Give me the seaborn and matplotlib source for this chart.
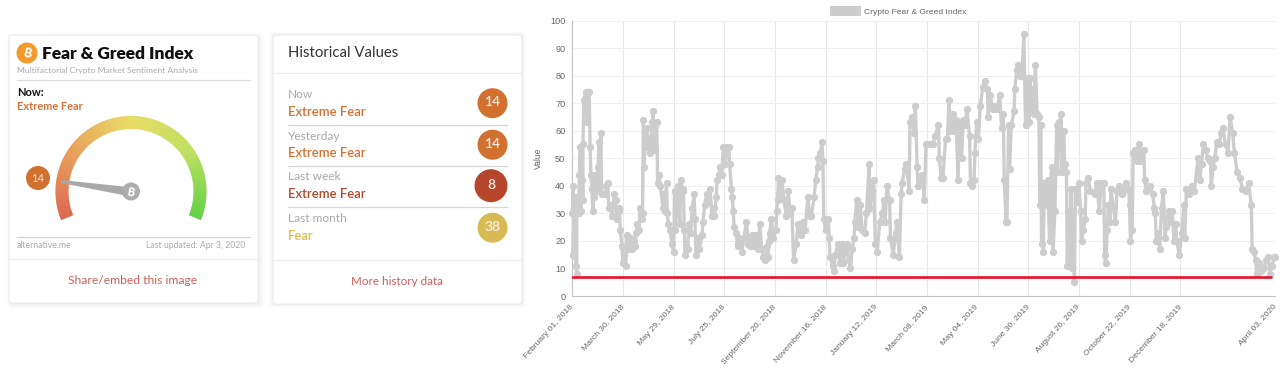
import numpy as np
import pandas as pd
import matplotlib
matplotlib.use('Agg')
import matplotlib.pyplot as plt
import seaborn as sns
from matplotlib.patches import Circle, FancyBboxPatch, Patch, Polygon, Wedge
from matplotlib.colors import LinearSegmentedColormap

# (day since Feb 1 2018, index value)
readings_2018_a = [(0,30),(1,40),(1,15),(2,30),(3,36),(4,11),(5,8),(5,36),(7,30),(8,44),(9,54),(10,31),(11,42),(12,35),(12,55),(13,71),(15,74),(17,63),(18,74),(19,74),(20,54),(21,44),(22,39),(23,31),(24,36),(25,44),(27,38),(29,47),(30,56),(31,40),(32,59),(33,37),(37,37),(38,40),(40,41),(41,32),(43,33),(45,29),(47,37),(49,35),(50,28),(52,32),(53,31),(54,24),(56,18),(57,12),(58,15),(60,11),(61,22),(63,17),(65,21),(67,17),(69,20),(70,18),(72,23),(73,26),(75,24),(76,32),(78,28),(79,30),(80,64),(81,47),(82,59),(83,54),(84,61),(87,52),(88,54),(90,63),(91,67),(92,56),(93,53),(95,63),(96,41),(97,44),(99,40),(102,32),(102,37),(104,31),(106,41),(107,30),(108,26),(110,24),(112,19),(114,16),(115,38),(116,24),(119,40),(121,26),(122,42),(124,38),(125,39),(126,24),(127,15),(128,19),(130,17),(131,26),(133,23),(135,32),(137,37),(138,28),(139,15),(140,17),(141,21),(143,17),(146,22),(147,27),(149,33),(151,37),(153,34),(155,39),(157,29),(159,32),(160,29),(162,36),(163,42),(165,44),(166,47),(168,44),(170,54),(172,48),(174,54),(176,54),(177,48),(179,39),(180,36),(181,31),(182,25),(184,23),(186,19),(187,18),(188,21),(191,16),(193,21),(196,27),(198,19),(200,18),(202,22),(205,18),(207,22),(209,17),(211,26),(213,17),(215,14),(217,13),(219,18),(220,14),(221,20),(222,23),(224,28),(226,21),(229,24)]
readings_2018_b = [(230,31),(231,35),(232,43),(233,37),(236,42),(238,35),(241,29),(243,38),(245,30),(247,32),(249,13),(252,19),(254,26),(257,22),(260,27),(262,24),(265,36),(267,29),(269,29),(272,36),(274,42),(276,47),(277,50),(279,52),(281,56),(282,49),(283,28),(285,24),(288,28),(289,21),(290,14),(293,11),(294,9),(296,15),(299,19),(301,12),(304,19),(305,12),(309,19),(311,13),(313,10),(315,17),(317,21),(318,27),(320,35),(322,25),(324,33),(326,24),(329,23),(331,30),(334,48),(335,32),(337,38),(339,42),(341,19),(343,16),(346,27),(349,30),(351,35),(352,27),(354,40),(357,35),(358,21),(361,15),(364,23),(365,27),(368,14),(370,37),(371,41),(374,46),(376,48),(379,38),(380,63),(382,65),(385,59),(386,69),(388,47),(389,40),(392,42),(394,44),(396,35),(398,55),(402,55),(406,55),(408,58),(412,62),(413,50),(415,43),(417,43),(420,57),(422,57),(424,71),(425,60),(428,66),(429,60),(432,64),(434,42),(436,62),(438,50),(440,64),(442,62),(444,68),(447,58),(448,41),(450,40),(452,42),(453,52),(455,63),(457,57),(459,69),(462,76),(464,78),(467,75),(468,65),(470,73),(473,68),(475,69),(478,68),(481,73),(483,61),(485,66),(486,42),(488,27),(489,27),(491,62),(492,46),(494,62),(497,67),(498,75),(500,82),(502,84),(504,80),(506,80),(508,95)]
readings_2019 = [(510,62),(511,78),(512,63),(513,79),(514,63),(515,79),(516,67),(517,75),(519,66),(521,84),(523,66),(525,65),(526,33),(527,62),(528,19),(529,41),(530,16),(531,41),(533,33),(535,42),(537,20),(538,42),(540,47),(541,16),(543,31),(545,62),(546,45),(548,63),(550,66),(551,45),(553,60),(554,48),(556,45),(557,11),(558,31),(560,12),(561,39),(562,10),(563,31),(565,5),(566,39),(568,34),(570,41),(572,31),(573,20),(575,24),(577,28),(578,41),(580,43),(583,38),(588,37),(590,41),(593,31),(595,41),(598,41),(599,15),(600,12),(602,24),(603,33),(605,27),(606,39),(609,32),(611,27),(613,38),(615,40),(618,37),(620,38),(623,41),(626,39),(627,33),(628,20),(630,24),(631,52),(633,53),(635,49),(636,50),(638,55),(640,49),(643,53),(644,42),(646,38),(650,40),(653,37),(655,32),(656,30),(657,20),(659,23),(661,17),(663,32),(665,38),(667,21),(668,25),(671,31),(673,27),(675,31),(677,20),(679,26),(680,20),(683,15),(686,23),(688,33),(689,21)]
readings_2020 = [(691,39),(694,37),(697,40),(700,38),(704,50),(706,42),(708,48),(710,55),(713,53),(715,50),(718,49),(719,40),(721,47),(723,50),(725,56),(728,55),(730,59),(732,61),(735,55),(738,52),(740,65),(743,59),(745,52),(748,45),(751,43),(754,39),(758,38),(761,41),(764,33),(765,17),(767,16),(769,13),(770,8),(773,12),(775,9),(778,10),(781,13),(783,14),(785,8),(787,11),(790,14),(791,14)]

tick_index = [0,57,114,171,228,285,342,399,456,513,570,627,684,791]
tick_labels = ['February 01, 2018','March 30, 2018','May 29, 2018','July 25, 2018','September 20, 2018',
               'November 16, 2018','January 12, 2019','March 08, 2019','May 04, 2019','June 30, 2019',
               'August 26, 2019','October 22, 2019','December 18, 2019','April 03, 2020']
threshold_days = [0, 786]
threshold_value = [6.8, 6.8]

hist_periods = ['Now','Yesterday','Last week','Last month']
hist_states = ['Extreme Fear','Extreme Fear','Extreme Fear','Fear']
hist_values = [14,14,8,38]
hist_colors = ['#d2702f','#d2702f','#b5462b','#d9bb55']

sns.set_style('white')
plt.rcParams['font.family'] = ['Lato', 'DejaVu Sans']
coin_font = ['Inter', 'Roboto', 'Noto Sans', 'Open Sans', 'DejaVu Sans']

fig = plt.figure(figsize=(12.8, 3.71), dpi=100)

# cards are drawn on a full size axes in pixels
bg = fig.add_axes([0, 0, 1, 1])
bg.set_xlim(0, 1280)
bg.set_ylim(371, 0)
bg.axis('off')


def card(x0, y0, x1, y1, shadow):
    for grow, a in [(4, 0.02), (2.5, 0.03), (1.2, 0.05)]:
        bg.add_patch(FancyBboxPatch((x0 - grow + shadow, y0 - grow + shadow), x1 - x0 + 2 * grow, y1 - y0 + 2 * grow,
                                    boxstyle='round,pad=0,rounding_size=3', fc='#888888', ec='none', alpha=a))
    bg.add_patch(FancyBboxPatch((x0, y0), x1 - x0, y1 - y0, boxstyle='round,pad=0,rounding_size=3',
                                fc='white', ec='#e8e8e8', lw=0.7))


card(9, 35, 258, 303, 2)
card(273, 35, 522, 304, 0)

# left card
bg.add_patch(Circle((27, 53), 10.5, fc='#f39a2b', ec='none'))
bg.text(27, 53.5, '\u20bf', color='white', fontsize=9, fontweight='bold', ha='center', va='center', family=coin_font, rotation=-12)
bg.text(42, 54, 'Fear & Greed Index', color='#111111', fontsize=12.5, fontweight='heavy', va='center')
bg.text(17, 71, 'Multifactorial Crypto Market Sentiment Analysis', color='#aaaaaa', fontsize=6.1, va='center')
bg.plot([17, 250], [79.5, 79.5], color='#dddddd', lw=0.9)
bg.text(17, 93, 'Now:', color='#111111', fontsize=8, fontweight='bold', va='center')
bg.text(17, 106, 'Extreme Fear', color='#d2743a', fontsize=7.9, fontweight='bold', va='center')

gauge = LinearSegmentedColormap.from_list('gauge', ['#dc6a52', '#e8a25c', '#e9dc66', '#bfe062', '#62d247'])
angles = np.linspace(-22, 202, 120)
for i in range(len(angles) - 1):
    # y axis is flipped here, so the wedge angles are mirrored
    bg.add_patch(Wedge((131, 191.5), 75.5, -angles[i + 1] - 0.3, -angles[i] + 0.3, width=13,
                       fc=gauge(1 - i / 118), ec='none'))
bg.add_patch(Polygon([(61, 180), (61, 183), (128, 196), (128, 187)], fc='#a8a8a8', ec='none'))
bg.add_patch(Circle((131, 191.5), 9, fc='#adadad', ec='none'))
bg.text(131, 192, '\u20bf', color='white', fontsize=8, fontweight='bold', ha='center', va='center', family=coin_font, rotation=-12)
bg.add_patch(Circle((38, 178), 12, fc='#d2702f', ec='none'))
bg.text(38, 178, '14', color='#f7e6d8', fontsize=8, ha='center', va='center')

bg.plot([17, 250], [237, 237], color='#d5d5d5', lw=0.9)
bg.text(17, 245.5, 'alternative.me', color='#aaaaaa', fontsize=6.2, va='center')
bg.text(245, 245.5, 'Last updated: Apr 3, 2020', color='#aaaaaa', fontsize=6.2, va='center', ha='right')
bg.plot([9, 258], [258.5, 258.5], color='#eeeeee', lw=0.9)
bg.text(133, 281, 'Share/embed this image', color='#cf5f5c', fontsize=8.7, ha='center', va='center')

# right card
bg.text(288, 53, 'Historical Values', color='#333333', fontsize=10.7, va='center')
bg.plot([273, 522], [72.5, 72.5], color='#eeeeee', lw=0.9)
row_y = [94.5, 136, 177, 219]
for i in range(4):
    bg.text(288, row_y[i], hist_periods[i], color='#a8a8a8', fontsize=8.6, va='center')
    bg.text(288, row_y[i] + 17, hist_states[i], color=hist_colors[i], fontsize=9.4, fontweight='semibold', va='center')
    r = 16.5 if hist_values[i] == 8 else 15
    bg.add_patch(Circle((507.5 - r, row_y[i] + 8.7), r, fc=hist_colors[i], ec='none'))
    bg.text(507.5 - r, row_y[i] + 8, str(hist_values[i]), color='#fbeee4', fontsize=10, fontweight='semibold', ha='center', va='center')
    if i < 3:
        bg.plot([288, 507], [row_y[i] + 30, row_y[i] + 30], color='#d5d5d5', lw=0.9)
bg.plot([273, 522], [259.5, 259.5], color='#eeeeee', lw=0.9)
bg.text(397, 281.5, 'More history data', color='#cf5f5c', fontsize=8.4, ha='center', va='center')

# line chart
ax = fig.add_axes([572.3 / 1280, (371 - 296) / 371, 703 / 1280, 275.5 / 371])
df = pd.DataFrame(readings_2018_a + readings_2018_b + readings_2019 + readings_2020, columns=['day', 'value'])
sns.lineplot(data=df, x='day', y='value', estimator=None, sort=False, ax=ax, color='#cdcdcd', lw=2.4,
             marker='o', markersize=4.5, markeredgecolor='#cdcdcd', clip_on=False, zorder=3)
sns.lineplot(x=threshold_days, y=threshold_value, ax=ax, color='#e8102c', lw=1.9, estimator=None, zorder=4)

ax.set_xlim(0, 791)
ax.set_ylim(0, 100)
ax.set_yticks(range(0, 101, 10))
ax.set_xticks(tick_index)
ax.set_xticklabels(tick_labels, rotation=48, ha='right', va='center', rotation_mode='anchor',
                   family=['Liberation Sans'], fontsize=6.1, color='#666666')
for t in ax.get_yticklabels():
    t.set_family(['Liberation Sans'])
    t.set_fontsize(6.6)
    t.set_color('#666666')
ax.tick_params(axis='both', length=3, width=0.7, color='#e2e2e2', pad=2)
ax.tick_params(axis='x', pad=4)
ax.set_axisbelow(True)
ax.grid(True, axis='x', color='#e8e8e8', lw=0.8)
ax.grid(True, axis='y', color='#f0f0f0', lw=0.8)
ax.set_xlabel('')
ax.set_ylabel('Value', family=['Liberation Sans'], fontsize=6.2, color='#666666', labelpad=5)
for side in ['top', 'right']:
    ax.spines[side].set_visible(False)
for side in ['left', 'bottom']:
    ax.spines[side].set_color('#c4c4c4')
    ax.spines[side].set_linewidth(0.8)

handle = Patch(fc='#cdcdcd', ec='none', label='Crypto Fear & Greed Index')
leg = ax.legend(handles=[handle], loc='lower center', bbox_to_anchor=(0.464, 0.995), frameon=False, ncol=1,
                prop={'family': 'Liberation Sans', 'size': 6.1}, labelcolor='#666666',
                handlelength=3.6, handleheight=1.3, handletextpad=0.45, borderpad=0.2)

fig.savefig('out.png', dpi=100)
